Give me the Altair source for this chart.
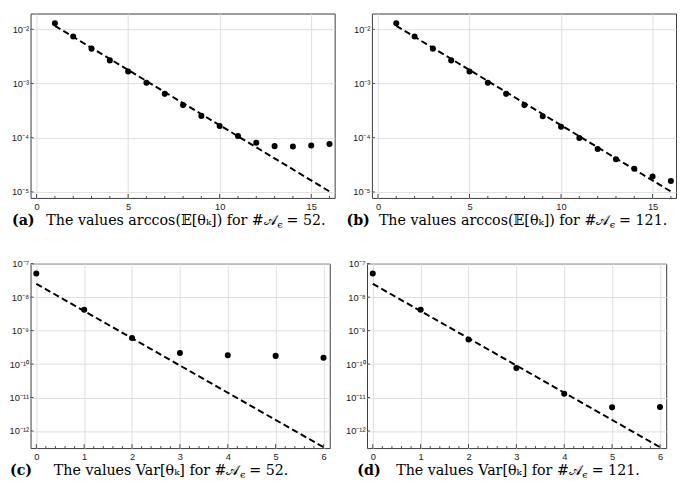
import altair as alt
import pandas as pd

# ---------------- data ----------------
top_x = [1, 2, 3, 4, 5, 6, 7, 8, 9, 10, 11, 12, 13, 14, 15, 16]
a_vals = [0.0129, 0.00738, 0.0044, 0.00267, 0.00166, 0.00103, 6.45e-4, 4.0e-4,
          2.53e-4, 1.64e-4, 1.08e-4, 8.1e-5, 7.0e-5, 6.9e-5, 7.2e-5, 7.7e-5]
b_vals = [0.0129, 0.00738, 0.0044, 0.00267, 0.00166, 0.00103, 6.45e-4, 4.0e-4,
          2.5e-4, 1.6e-4, 9.9e-5, 6.2e-5, 4.0e-5, 2.67e-5, 1.93e-5, 1.6e-5]
top_fit_x = [1, 16]
top_fit_y = [0.0116, 1.02e-5]

bot_x = [0, 1, 2, 3, 4, 5, 6]
c_vals = [5.1e-8, 4.2e-9, 6.0e-10, 2.15e-10, 1.85e-10, 1.76e-10, 1.55e-10]
d_vals = [5.1e-8, 4.2e-9, 5.4e-10, 7.6e-11, 1.3e-11, 5.1e-12, 5.2e-12]
bot_fit_x = [0, 6]
bot_fit_y = [2.5e-8, 3.3e-13]

top_xmajor = [0, 5, 10, 15]
top_xminor = [1, 2, 3, 4, 6, 7, 8, 9, 11, 12, 13, 14, 16]
bot_xmajor = [0, 1, 2, 3, 4, 5, 6]
bot_xminor = [0.2, 0.4, 0.6, 0.8, 1.2, 1.4, 1.6, 1.8, 2.2, 2.4, 2.6, 2.8,
              3.2, 3.4, 3.6, 3.8, 4.2, 4.4, 4.6, 4.8, 5.2, 5.4, 5.6, 5.8]
top_yticks = [1e-2, 1e-3, 1e-4, 1e-5]
top_yexp = [-2, -3, -4, -5]
top_ylabels = ["10⁻²", "10⁻³", "10⁻⁴", "10⁻⁵"]
bot_yticks = [1e-7, 1e-8, 1e-9, 1e-10, 1e-11, 1e-12]
bot_yexp = [-7, -8, -9, -10, -11, -12]
bot_ylabels = ["10⁻⁷", "10⁻⁸", "10⁻⁹", "10⁻¹⁰", "10⁻¹¹", "10⁻¹²"]

cap_tags = ["(a)", "(b)", "(c)", "(d)"]
cap_main = ["The values arccos(𝔼[θₖ]) for #𝒜", "The values arccos(𝔼[θₖ]) for #𝒜",
            "The values Var[θₖ] for #𝒜", "The values Var[θₖ] for #𝒜"]
cap_sub = ["ϵ", "ϵ", "ϵ", "ϵ"]
cap_end = ["= 52.", "= 121.", "= 52.", "= 121."]

# ---------------- styling ----------------
TOP_W, TOP_H = 310, 188
BOT_W, BOT_H = 305, 188
TOP_XDOM = [-0.33, 16.28]
TOP_YDOM = [7.76e-6, 0.01954]
BOT_XDOM = [-0.12, 6.13]
BOT_YDOM = [3.1e-13, 1e-7]
GRID = "#dedede"
INK = "#222222"
SERIF = "DejaVu Serif"
SANS = "Liberation Sans"
CAP_FS = 14.5

# caption positions relative to the plot frame: tag x, split x, '=' x, baseline
cap_pos = [
    (-19.0, 251.0, 261.0, TOP_H + 28),
    (-26.0, 242.0, 252.0, TOP_H + 28),
    (-21.0, 213.0, 223.0, BOT_H + 27),
    (-10.0, 219.0, 229.0, BOT_H + 27),
]


def label_expr(exps, labels):
    e = "''"
    for ex, lb in reversed(list(zip(exps, labels))):
        e = f"(round(log(datum.value)/LN10) == {ex} ? '{lb}' : {e})"
    return e


def panel(i, xs, ys, fit_x, fit_y, xdom, ydom, xmaj, xmin, yt, yexp, ylab, W, H):
    pts = pd.DataFrame({"x": xs, "y": ys})
    fit = pd.DataFrame({"x": fit_x, "y": fit_y})
    xsc = alt.Scale(domain=xdom, nice=False, zero=False)
    ysc = alt.Scale(type="log", domain=ydom, nice=False)
    xaxis = alt.Axis(values=xmaj, grid=True, gridColor=GRID, gridWidth=1,
                     ticks=False, tickSize=0, domain=False, title=None,
                     labelFont=SANS, labelFontSize=9.5, labelColor=INK,
                     labelPadding=4, labelFlush=False, format="d")
    yaxis = alt.Axis(values=yt, grid=True, gridColor=GRID, gridWidth=1,
                     ticks=False, tickSize=0, domain=False, title=None,
                     labelFont=SANS, labelFontSize=9.5, labelColor=INK,
                     labelPadding=2, labelFlush=False,
                     labelExpr=label_expr(yexp, ylab))
    X = alt.X("x:Q", scale=xsc, axis=xaxis)
    Y = alt.Y("y:Q", scale=ysc, axis=yaxis)

    line = alt.Chart(fit).mark_line(color="black", strokeWidth=2,
                                    strokeDash=[6.5, 3.5], clip=True).encode(x=X, y=Y)
    dots = alt.Chart(pts).mark_circle(size=38, color="black", opacity=1).encode(x=X, y=Y)

    maj = alt.Chart(pd.DataFrame({"x": xmaj})).mark_rule(color="#444", strokeWidth=1).encode(
        x=X, y=alt.value(H), y2=alt.value(H - 4))
    mnr = alt.Chart(pd.DataFrame({"x": xmin})).mark_rule(color="#444", strokeWidth=1).encode(
        x=X, y=alt.value(H), y2=alt.value(H - 2))
    ytk = alt.Chart(pd.DataFrame({"y": yt})).mark_rule(color="#444", strokeWidth=1).encode(
        y=Y, x=alt.value(0), x2=alt.value(3))

    tx, px, ex, by = cap_pos[i]
    cap = pd.DataFrame({"tag": [cap_tags[i]], "main": [cap_main[i]],
                        "sub": [cap_sub[i]], "end": [cap_end[i]]})
    base = alt.Chart(cap)
    t_tag = base.mark_text(font=SERIF, fontSize=CAP_FS, fontWeight="bold", align="left",
                           baseline="alphabetic", color="black").encode(
        x=alt.value(tx), y=alt.value(by), text="tag:N")
    t_main = base.mark_text(font=SERIF, fontSize=CAP_FS, align="right",
                            baseline="alphabetic", color="black").encode(
        x=alt.value(px), y=alt.value(by), text="main:N")
    t_sub = base.mark_text(font=SERIF, fontSize=10, align="left",
                           baseline="alphabetic", color="black").encode(
        x=alt.value(px + 0.5), y=alt.value(by + 3), text="sub:N")
    t_end = base.mark_text(font=SERIF, fontSize=CAP_FS, align="left",
                           baseline="alphabetic", color="black").encode(
        x=alt.value(ex), y=alt.value(by), text="end:N")

    return alt.layer(line, maj, mnr, ytk, dots, t_tag, t_main, t_sub, t_end).properties(
        width=W, height=H)


pa = panel(0, top_x, a_vals, top_fit_x, top_fit_y, TOP_XDOM, TOP_YDOM, top_xmajor,
           top_xminor, top_yticks, top_yexp, top_ylabels, TOP_W, TOP_H)
pb = panel(1, top_x, b_vals, top_fit_x, top_fit_y, TOP_XDOM, TOP_YDOM, top_xmajor,
           top_xminor, top_yticks, top_yexp, top_ylabels, TOP_W, TOP_H)
pc = panel(2, bot_x, c_vals, bot_fit_x, bot_fit_y, BOT_XDOM, BOT_YDOM, bot_xmajor,
           bot_xminor, bot_yticks, bot_yexp, bot_ylabels, BOT_W, BOT_H)
pd_ = panel(3, bot_x, d_vals, bot_fit_x, bot_fit_y, BOT_XDOM, BOT_YDOM, bot_xmajor,
            bot_xminor, bot_yticks, bot_yexp, bot_ylabels, BOT_W, BOT_H)

top = alt.hconcat(pa, pb, spacing=10)
bot = alt.hconcat(pc, pd_, spacing=14)
chart = alt.vconcat(top, bot, spacing=27).properties(
    padding={"left": 0, "top": 0, "right": 0, "bottom": 0}
).configure_view(stroke="#3a3a3a", strokeWidth=1)

chart.save("out.html", embed_options={"renderer": "svg", "actions": False})
